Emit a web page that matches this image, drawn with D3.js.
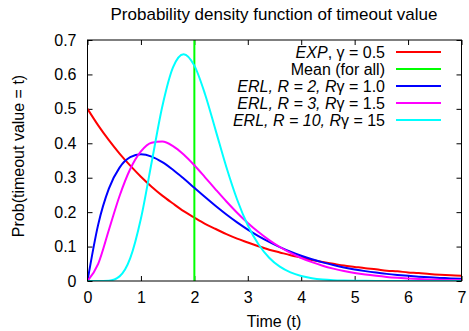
<!DOCTYPE html>
<html>
<head>
<meta charset="utf-8">
<script src="https://cdn.jsdelivr.net/npm/d3@7"></script>
<style>
  body { margin: 0; background: #fff; }
  svg { display: block; font-family: "Liberation Sans", Arial, sans-serif; }
</style>
</head>
<body>
<svg id="chart" width="469" height="331"></svg>
<script>
// sample times, step 0.2 from 0 to 7
const times = [0, 0.2, 0.4, 0.6, 0.8, 1.0, 1.2, 1.4, 1.6, 1.8, 2.0, 2.2, 2.4, 2.6, 2.8, 3.0, 3.2, 3.4,
  3.6, 3.8, 4.0, 4.2, 4.4, 4.6, 4.8, 5.0, 5.2, 5.4, 5.6, 5.8, 6.0, 6.2, 6.4, 6.6, 6.8, 7.0];

const expValues = [0.5, 0.452, 0.409, 0.370, 0.335, 0.303, 0.274, 0.248, 0.225, 0.203, 0.184, 0.166,
  0.151, 0.136, 0.123, 0.112, 0.101, 0.091, 0.083, 0.075, 0.068, 0.061, 0.055, 0.050, 0.045, 0.041,
  0.037, 0.034, 0.030, 0.028, 0.025, 0.023, 0.020, 0.018, 0.017, 0.015];

const erl2Values = [0, 0.1637, 0.2681, 0.3293, 0.3595, 0.3679, 0.3614, 0.3452, 0.3230, 0.2975, 0.2707,
  0.2438, 0.2177, 0.1931, 0.1703, 0.1494, 0.1304, 0.1135, 0.0984, 0.0850, 0.0733, 0.0630, 0.0540,
  0.0462, 0.0395, 0.0337, 0.0287, 0.0244, 0.0207, 0.0176, 0.0149, 0.0126, 0.0106, 0.0090, 0.0076, 0.0064];

const erl3Values = [0, 0.0500, 0.1482, 0.2470, 0.3253, 0.3765, 0.4017, 0.4050, 0.3919, 0.3674, 0.3361,
  0.3012, 0.2656, 0.2309, 0.1984, 0.1687, 0.1422, 0.1189, 0.0988, 0.0815, 0.0669, 0.0547, 0.0444,
  0.0360, 0.0290, 0.0233, 0.0187, 0.0150, 0.0119, 0.0095, 0.0075, 0.0059, 0.0047, 0.0037, 0.0029, 0.0023];

const erl10Values = [0, 0.0000, 0.0010, 0.0135, 0.0662, 0.1813, 0.3442, 0.5070, 0.6204, 0.6588, 0.6255,
  0.5426, 0.4368, 0.3303, 0.2367, 0.1620, 0.1066, 0.0676, 0.0416, 0.0249, 0.0145, 0.0083, 0.0046,
  0.0025, 0.0014, 0.0007, 0.0004, 0.0002, 0.0001, 0.0001, 0, 0, 0, 0, 0, 0];

const meanValue = 2;

const xTicks = [0, 1, 2, 3, 4, 5, 6, 7];
const yTicks = [0, 0.1, 0.2, 0.3, 0.4, 0.5, 0.6, 0.7];

// legend: [italic part, upright part]
const legendItems = [
  { it: 'EXP', up: ', \u03b3 = 0.5', color: '#ff0000' },
  { it: '', up: 'Mean (for all)', color: '#00ff00' },
  { it: 'ERL, R = 2, R', up: '\u03b3 = 1.0', color: '#0000ff' },
  { it: 'ERL, R = 3, R', up: '\u03b3 = 1.5', color: '#ff00ff' },
  { it: 'ERL, R = 10, R', up: '\u03b3 = 15', color: '#00ffff' }
];

const fontSize = 16;
const margin = { top: 40, right: 7.5, bottom: 50, left: 87.5 };
const width = 469, height = 331;
const innerW = width - margin.left - margin.right;
const innerH = height - margin.top - margin.bottom;

const svg = d3.select('#chart');
const g = svg.append('g').attr('transform', `translate(${margin.left},${margin.top})`);

const x = d3.scaleLinear().domain([0, 7]).range([0, innerW]);
const y = d3.scaleLinear().domain([0, 0.7]).range([innerH, 0]);

svg.append('defs').append('clipPath').attr('id', 'clip')
  .append('rect').attr('width', innerW).attr('height', innerH);

// axes with inward ticks (mirrored on top/right)
const fmtY = d => d === 0 ? '0' : d3.format('.1f')(d);
g.append('g').attr('transform', `translate(0,${innerH})`)
  .call(d3.axisBottom(x).tickValues(xTicks).tickSizeInner(-5).tickSizeOuter(0).tickPadding(11).tickFormat(d3.format('d')));
g.append('g')
  .call(d3.axisTop(x).tickValues(xTicks).tickSizeInner(-5).tickSizeOuter(0).tickFormat(''));
g.append('g')
  .call(d3.axisLeft(y).tickValues(yTicks).tickSizeInner(-5).tickSizeOuter(0).tickPadding(11).tickFormat(fmtY));
g.append('g').attr('transform', `translate(${innerW},0)`)
  .call(d3.axisRight(y).tickValues(yTicks).tickSizeInner(-5).tickSizeOuter(0).tickFormat(''));

g.selectAll('.domain').remove();
g.selectAll('.tick line').attr('stroke', '#000');
g.selectAll('.tick text').attr('font-size', fontSize).attr('fill', '#000')
  .attr('font-family', '"Liberation Sans", Arial, sans-serif');

const plot = g.append('g').attr('clip-path', 'url(#clip)');

const line = d3.line()
  .x((d, i) => x(times[i]))
  .y(d => y(d))
  .curve(d3.curveMonotoneX);

plot.append('path').datum(expValues)
  .attr('d', line).attr('fill', 'none').attr('stroke', '#ff0000').attr('stroke-width', 2);

plot.append('line')
  .attr('x1', x(meanValue)).attr('x2', x(meanValue))
  .attr('y1', y(0)).attr('y2', y(0.7))
  .attr('stroke', '#00ff00').attr('stroke-width', 2);

[[erl2Values, '#0000ff'], [erl3Values, '#ff00ff'], [erl10Values, '#00ffff']].forEach(([vals, c]) => {
  plot.append('path').datum(vals)
    .attr('d', line).attr('fill', 'none').attr('stroke', c).attr('stroke-width', 2);
});

// frame
g.append('rect').attr('width', innerW).attr('height', innerH)
  .attr('fill', 'none').attr('stroke', '#000').attr('stroke-width', 1);

// legend
const leg = svg.append('g');
legendItems.forEach((item, i) => {
  const ly = 52 + i * 17;
  const t = leg.append('text')
    .attr('x', 385).attr('y', ly).attr('dy', '0.35em')
    .attr('text-anchor', 'end').attr('font-size', fontSize).attr('fill', '#000');
  if (item.it) t.append('tspan').attr('font-style', 'italic').text(item.it);
  t.append('tspan').text(item.up);
  leg.append('line')
    .attr('x1', 396).attr('x2', 441).attr('y1', ly).attr('y2', ly)
    .attr('stroke', item.color).attr('stroke-width', 2);
});

// title and axis labels
svg.append('text').attr('x', 274).attr('y', 20).attr('text-anchor', 'middle')
  .attr('font-size', 17).text('Probability density function of timeout value');
svg.append('text').attr('x', 274).attr('y', 327).attr('text-anchor', 'middle')
  .attr('font-size', fontSize).text('Time (t)');
svg.append('text').attr('transform', 'translate(24,156) rotate(-90)').attr('text-anchor', 'middle')
  .attr('font-size', fontSize).text('Prob(timeout value = t)');
</script>
</body>
</html>
